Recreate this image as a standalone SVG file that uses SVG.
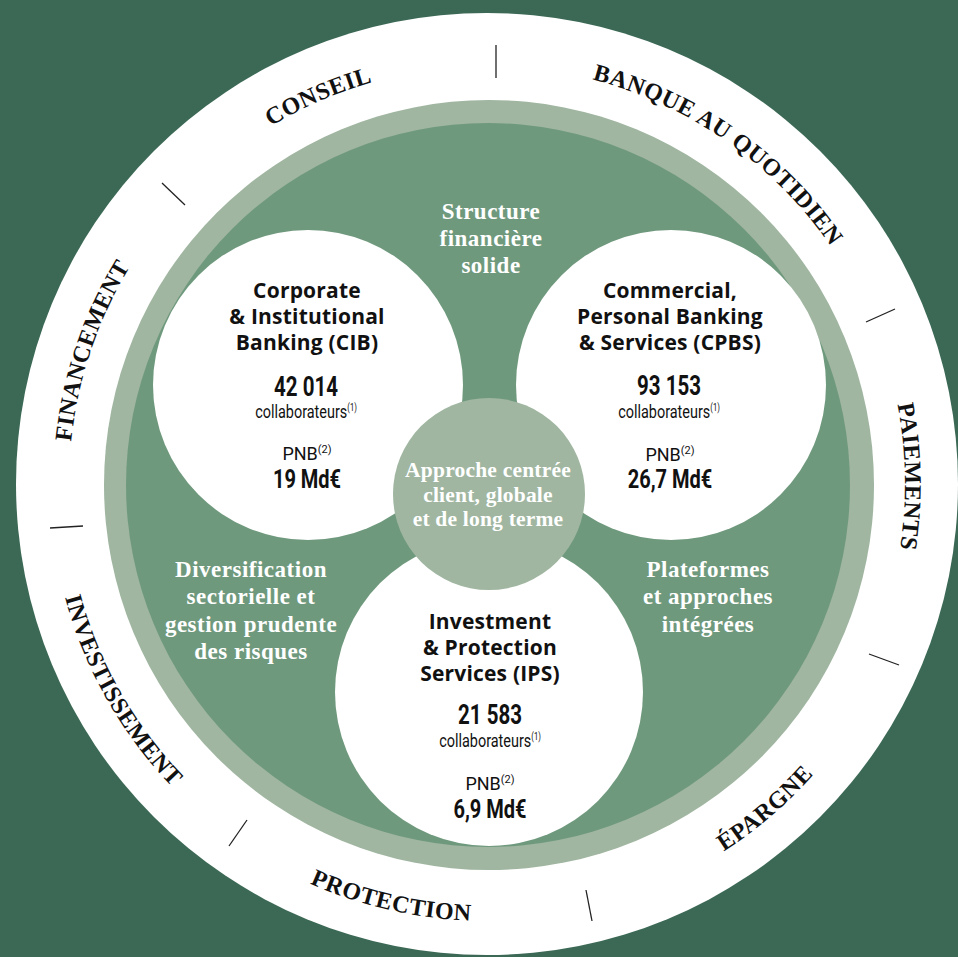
<svg xmlns="http://www.w3.org/2000/svg" width="958" height="957" viewBox="0 0 958 957">
<defs>
<style>
.ring{font-family:"Liberation Serif","Times New Roman",serif;font-weight:700;font-size:24px;letter-spacing:0.5px;fill:#111;}
.val{font-family:"Liberation Serif","Times New Roman",serif;font-weight:700;font-size:23px;letter-spacing:0.5px;fill:#fff;text-anchor:middle;}
.coret{font-family:"Liberation Serif","Times New Roman",serif;font-weight:700;font-size:21.5px;letter-spacing:0.2px;fill:#fff;text-anchor:middle;}
.title{font-family:"Open Sans","Liberation Sans",sans-serif;font-weight:700;font-size:21px;letter-spacing:0.2px;fill:#111;text-anchor:middle;}
.num{font-family:Roboto,"Liberation Sans",sans-serif;font-weight:700;font-size:28.5px;fill:#111;text-anchor:middle;}
.amt{font-family:Roboto,"Liberation Sans",sans-serif;font-weight:700;font-size:26px;fill:#111;text-anchor:middle;}
.sub{font-family:Roboto,"Liberation Sans",sans-serif;font-weight:400;font-size:19px;fill:#111;text-anchor:middle;}
.pnb{font-family:Roboto,"Liberation Sans",sans-serif;font-weight:400;font-size:18px;fill:#111;text-anchor:middle;}
.tick{stroke:#222;stroke-width:1.3;fill:none;}
.wc{fill:#ffffff;}
.lc{fill:#a0b6a1;}
</style>
<path id="p-conseil" d="M151.0,235.4 A418,418 0 0 1 534.3,68.7"/>
<path id="p-banque" d="M487,66 A418,418 0 0 1 879.8,341.0"/>
<path id="p-paiements" d="M845.3,268.7 A418,418 0 0 1 852.6,686.6"/>
<path id="p-financement" d="M77.2,566.6 A418,418 0 0 1 210.6,170.5"/>
<path id="p-epargne" d="M567.4,913.5 A437,437 0 0 0 899.2,629.2"/>
<path id="p-protection" d="M189.0,803.6 A437,437 0 0 0 614.8,901.9"/>
<path id="p-invest" d="M50.0,480.2 A437,437 0 0 0 265.2,860.5"/>
</defs>

<rect x="0" y="0" width="958" height="957" fill="#3b6955"/>

<g id="rings">
<circle cx="487" cy="484" r="471" fill="#ffffff"/>
<circle cx="489" cy="485" r="385" fill="#a0b6a1"/>
<circle cx="488" cy="485" r="362" fill="#6f997d"/>
</g>

<g id="ring-labels" class="ring">
<text><textPath href="#p-conseil" startOffset="50%" text-anchor="middle">CONSEIL</textPath></text>
<text><textPath href="#p-banque" startOffset="50%" text-anchor="middle">BANQUE AU QUOTIDIEN</textPath></text>
<text><textPath href="#p-paiements" startOffset="50%" text-anchor="middle">PAIEMENTS</textPath></text>
<text><textPath href="#p-financement" startOffset="50%" text-anchor="middle">FINANCEMENT</textPath></text>
<text><textPath href="#p-epargne" startOffset="50%" text-anchor="middle">ÉPARGNE</textPath></text>
<text><textPath href="#p-protection" startOffset="50%" text-anchor="middle">PROTECTION</textPath></text>
<text><textPath href="#p-invest" startOffset="50%" text-anchor="middle">INVESTISSEMENT</textPath></text>
</g>

<g id="connectors">
<line class="tick" x1="496" y1="45" x2="496" y2="78"/>
<line class="tick" x1="162" y1="183" x2="185" y2="205"/>
<line class="tick" x1="50" y1="528" x2="83" y2="526"/>
<line class="tick" x1="247" y1="820" x2="229" y2="846"/>
<line class="tick" x1="586" y1="890" x2="592" y2="921"/>
<line class="tick" x1="869" y1="654" x2="899" y2="665"/>
<line class="tick" x1="866" y1="322" x2="895" y2="309"/>
</g>

<g id="values">
<text class="val" x="491" y="219">Structure</text>
<text class="val" x="491" y="246">financière</text>
<text class="val" x="491" y="273">solide</text>
<text class="val" x="251" y="577">Diversification</text>
<text class="val" x="251" y="604">sectorielle et</text>
<text class="val" x="251" y="632">gestion prudente</text>
<text class="val" x="251" y="659">des risques</text>
<text class="val" x="708" y="577">Plateformes</text>
<text class="val" x="708" y="604">et approches</text>
<text class="val" x="708" y="632">intégrées</text>
</g>

<g id="node-cib">
<circle class="wc" cx="308" cy="385" r="155"/>
<text class="title" x="307" y="298">Corporate</text>
<text class="title" x="307" y="324">&amp; Institutional</text>
<text class="title" x="307" y="350">Banking (CIB)</text>
<text class="num" transform="translate(306,396) scale(0.72,1)">42 014</text>
<text class="sub" transform="translate(306,418) scale(0.76,1)">collaborateurs<tspan font-size="10" dy="-7">(1)</tspan></text>
<text class="pnb" x="307" y="460">PNB<tspan font-size="11" dy="-7">(2)</tspan></text>
<text class="amt" transform="translate(307,488) scale(0.77,1)">19 Md€</text>
</g>

<g id="node-cpbs">
<circle class="wc" cx="671" cy="385" r="155"/>
<text class="title" x="670" y="298">Commercial,</text>
<text class="title" x="670" y="324">Personal Banking</text>
<text class="title" x="670" y="350">&amp; Services (CPBS)</text>
<text class="num" transform="translate(669,395) scale(0.72,1)">93 153</text>
<text class="sub" transform="translate(669,418) scale(0.76,1)">collaborateurs<tspan font-size="10" dy="-7">(1)</tspan></text>
<text class="pnb" x="670" y="461">PNB<tspan font-size="11" dy="-7">(2)</tspan></text>
<text class="amt" transform="translate(670,488) scale(0.77,1)">26,7 Md€</text>
</g>

<g id="node-ips">
<circle class="wc" cx="489" cy="692" r="154"/>
<text class="title" x="490" y="629">Investment</text>
<text class="title" x="490" y="655">&amp; Protection</text>
<text class="title" x="490" y="681">Services (IPS)</text>
<text class="num" transform="translate(490,724) scale(0.72,1)">21 583</text>
<text class="sub" transform="translate(490,747) scale(0.76,1)">collaborateurs<tspan font-size="10" dy="-7">(1)</tspan></text>
<text class="pnb" x="490" y="790">PNB<tspan font-size="11" dy="-7">(2)</tspan></text>
<text class="amt" transform="translate(490,818) scale(0.77,1)">6,9 Md€</text>
</g>

<g id="node-core">
<circle class="lc" cx="489" cy="494" r="96"/>
<text class="coret" x="488" y="477">Approche centrée</text>
<text class="coret" x="488" y="502">client, globale</text>
<text class="coret" x="488" y="526">et de long terme</text>
</g>
</svg>
